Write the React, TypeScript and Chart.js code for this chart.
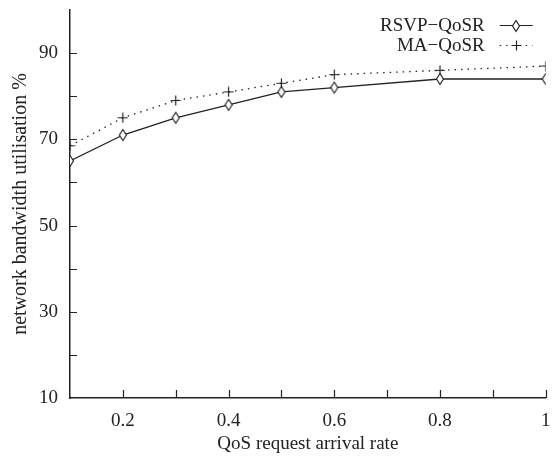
import React, { useEffect, useRef } from "react";
import { Chart, registerables } from "chart.js";

Chart.register(...registerables);

const xValues = [0.1, 0.2, 0.3, 0.4, 0.5, 0.6, 0.8, 1];
const rsvpQoSR = [65, 71, 75, 78, 81, 82, 84, 84];
const maQoSR = [68.5, 75, 79, 81, 83, 85, 86, 87];
const seriesNames = ["RSVP\u2212QoSR", "MA\u2212QoSR"];
const xLabeled = [0.2, 0.4, 0.6, 0.8, 1];
const yLabeled = [10, 30, 50, 70, 90];
const xTitle = "QoS request arrival rate";
const yTitle = "network bandwidth utilisation %";

const INK = "#222";
const FONT_FAMILY = '"Liberation Serif", "Times New Roman", serif';
const FONT_SIZE = 19;

function makeDiamond(): HTMLCanvasElement {
  const c = document.createElement("canvas");
  c.width = 10;
  c.height = 14;
  const g = c.getContext("2d")!;
  g.fillStyle = "#fff";
  g.strokeStyle = INK;
  g.lineWidth = 1.2;
  g.beginPath();
  g.moveTo(5, 1.5);
  g.lineTo(8.5, 7);
  g.lineTo(5, 12.5);
  g.lineTo(1.5, 7);
  g.closePath();
  g.fill();
  g.stroke();
  return c;
}

function makePlus(): HTMLCanvasElement {
  const c = document.createElement("canvas");
  c.width = 11;
  c.height = 11;
  const g = c.getContext("2d")!;
  g.strokeStyle = INK;
  g.lineWidth = 1.2;
  g.beginPath();
  g.moveTo(5.5, 0.5);
  g.lineTo(5.5, 10.5);
  g.moveTo(0.5, 5.5);
  g.lineTo(10.5, 5.5);
  g.stroke();
  return c;
}

const isIn = (arr: number[], v: number, eps = 1e-6) => arr.some((a) => Math.abs(a - v) < eps);

export default function App() {
  const ref = useRef<HTMLCanvasElement | null>(null);

  useEffect(() => {
    if (!ref.current) return;
    const diamond = makeDiamond();
    const plus = makePlus();

    const tickPlugin = {
      id: "inwardTicks",
      afterDatasetsDraw(chart: any) {
        const ctx = chart.ctx;
        const xs = chart.scales.x;
        const ys = chart.scales.y;
        const area = chart.chartArea;
        ctx.save();
        ctx.strokeStyle = INK;
        ctx.lineWidth = 1.2;
        ctx.beginPath();
        xs.ticks.forEach((t: any) => {
          if (Math.abs(t.value - xs.min) < 1e-6) return;
          const px = Math.round(xs.getPixelForValue(t.value)) + 0.5;
          ctx.moveTo(px, area.bottom);
          ctx.lineTo(px, area.bottom - 8);
        });
        ys.ticks.forEach((t: any) => {
          if (Math.abs(t.value - ys.min) < 1e-6 || Math.abs(t.value - ys.max) < 1e-6) return;
          const py = Math.round(ys.getPixelForValue(t.value)) + 0.5;
          ctx.moveTo(area.left, py);
          ctx.lineTo(area.left + 7, py);
        });
        ctx.stroke();
        ctx.restore();
      },
    };

    const legendPlugin = {
      id: "customLegend",
      afterDraw(chart: any) {
        const ctx = chart.ctx;
        const area = chart.chartArea;
        const textRight = area.right - 61;
        const sx0 = area.right - 46;
        const sx1 = area.right - 13;
        const rows = [area.top + 15, area.top + 35];
        ctx.save();
        ctx.font = `${FONT_SIZE}px ${FONT_FAMILY}`;
        ctx.fillStyle = INK;
        ctx.textAlign = "right";
        ctx.textBaseline = "middle";
        chart.data.datasets.forEach((ds: any, i: number) => {
          const y = rows[i];
          ctx.fillText(ds.label, textRight, y + 1);
          ctx.save();
          ctx.strokeStyle = INK;
          ctx.lineWidth = 1.2;
          ctx.setLineDash(ds.borderDash || []);
          ctx.beginPath();
          ctx.moveTo(sx0, y + 0.5);
          ctx.lineTo(sx1, y + 0.5);
          ctx.stroke();
          ctx.restore();
          const img = ds.pointStyle as HTMLCanvasElement;
          const cx = (sx0 + sx1) / 2;
          ctx.drawImage(img, Math.round(cx - img.width / 2), Math.round(y - img.height / 2 + 0.5));
        });
        ctx.restore();
      },
    };

    const chart = new Chart(ref.current, {
      type: "line",
      data: {
        datasets: [
          {
            label: seriesNames[0],
            data: xValues.map((x, i) => ({ x, y: rsvpQoSR[i] })),
            borderColor: INK,
            borderWidth: 1.3,
            pointStyle: diamond as any,
            pointRadius: 5,
            tension: 0,
            order: 1,
          },
          {
            label: seriesNames[1],
            data: xValues.map((x, i) => ({ x, y: maQoSR[i] })),
            borderColor: INK,
            borderWidth: 1.3,
            borderDash: [1.5, 5],
            pointStyle: plus as any,
            pointRadius: 5,
            tension: 0,
            order: 2,
          },
        ],
      },
      options: {
        animation: false,
        responsive: false,
        maintainAspectRatio: false,
        layout: { padding: { top: 10, right: 3, left: 0, bottom: 0 } },
        plugins: {
          legend: { display: false },
          tooltip: { enabled: false },
        },
        scales: {
          x: {
            type: "linear",
            min: 0.1,
            max: 1,
            grid: { display: false, drawTicks: false },
            border: { display: true, color: INK, width: 1.5 },
            ticks: {
              stepSize: 0.1,
              autoSkip: false,
              maxRotation: 0,
              padding: 12,
              color: INK,
              font: { family: FONT_FAMILY, size: FONT_SIZE },
              callback: (v: any) => {
                const n = Number(v);
                if (!isIn(xLabeled, n)) return "";
                return Math.abs(n - 1) < 1e-6 ? "1" : n.toFixed(1);
              },
            },
            title: {
              display: true,
              text: xTitle,
              color: INK,
              font: { family: FONT_FAMILY, size: FONT_SIZE },
              padding: { top: 0, bottom: 4 },
            },
            afterFit: (scale: any) => {
              scale.height = 61;
              scale.paddingLeft = 0;
              scale.paddingRight = 0;
            },
          },
          y: {
            type: "linear",
            min: 10,
            max: 100,
            grid: { display: false, drawTicks: false },
            border: { display: true, color: INK, width: 1.5 },
            ticks: {
              stepSize: 10,
              autoSkip: false,
              padding: 12,
              color: INK,
              font: { family: FONT_FAMILY, size: FONT_SIZE },
              callback: (v: any) => (isIn(yLabeled, Number(v)) ? String(v) : ""),
            },
            title: {
              display: true,
              text: yTitle,
              color: INK,
              font: { family: FONT_FAMILY, size: 20 },
              padding: { top: 9, bottom: 0 },
            },
            afterFit: (scale: any) => {
              scale.width = 70;
              scale.paddingTop = 0;
              scale.paddingBottom = 0;
            },
          },
        },
      },
      plugins: [tickPlugin, legendPlugin],
    });
    return () => chart.destroy();
  }, []);

  return (
    <div style={{ position: "fixed", left: 0, top: 0, width: 552, height: 459, background: "#fff" }}>
      <canvas ref={ref} width={552} height={459} style={{ display: "block" }} />
    </div>
  );
}
